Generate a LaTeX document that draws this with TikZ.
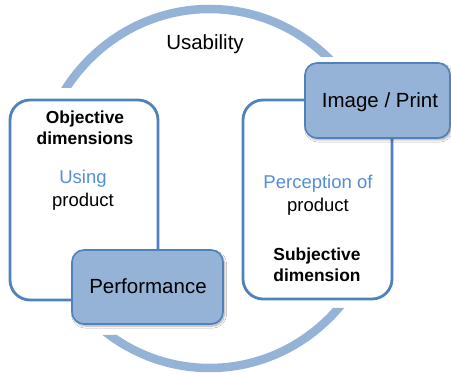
\documentclass[tikz,border=0pt]{standalone}
\usepackage{fontspec}
\setmainfont{Liberation Sans}
\usetikzlibrary{shadows.blur}
\definecolor{boxfill}{HTML}{95B3D7}
\definecolor{boxline}{HTML}{4F81BD}
\definecolor{ringcol}{HTML}{95B3D7}
\definecolor{bluetext}{HTML}{558ED5}
\tikzset{
  ring/.style={draw=ringcol, line width=8.5pt},
  bigbox/.style={draw=boxline, fill=white, line width=2.8pt, rounded corners=20pt, inner sep=0pt},
  tagbox/.style={draw=boxline, fill=boxfill, line width=1.6pt, rounded corners=12pt, inner sep=0pt,
    blur shadow={shadow xshift=1.5pt, shadow yshift=-2pt, shadow blur steps=6, shadow opacity=35}},
  bigtxt/.style={anchor=base, inner sep=0pt, font=\fontsize{20.5}{24}\selectfont},
  plaintxt/.style={anchor=base, inner sep=0pt, font=\fontsize{18.5}{22}\selectfont},
  boldtxt/.style={anchor=base, inner sep=0pt, font=\fontsize{17.4}{21}\selectfont\bfseries},
}
\begin{document}
\begin{tikzpicture}[x=1pt,y=-1pt]
\useasboundingbox (0,0) rectangle (451,374);
\fill[white] (0,0) rectangle (451,374);

% the usability ring: one ellipse, shown only above and below the boxes
\coordinate (ctr) at (209.5,188.5);
\begin{scope}
  \clip (0,0) -- (451,0) -- (451,57) -- (210,57) -- (210,88) -- (0,88) -- cycle;
  \draw[ring] (ctr) ellipse[x radius=173, y radius=179.5];
\end{scope}
\begin{scope}
  \clip (0,374) -- (0,335) -- (210,335) -- (210,308) -- (451,308) -- (451,374) -- cycle;
  \draw[ring] (ctr) ellipse[x radius=173, y radius=179.5];
\end{scope}
\node[bigtxt] (usab) at (205,50) {Usability};

% objective side
\node[bigbox, minimum width=148pt, minimum height=200pt] (obj) at (84,200) {};
\node[boldtxt] (obj1) at (85,124) {Objective};
\node[boldtxt] (obj2) at (85,145) {dimensions};
\node[plaintxt, text=bluetext] (use1) at (83,184) {Using};
\node[plaintxt] (use2) at (83,207) {product};
\node[tagbox, minimum width=151pt, minimum height=74pt] (perf) at (147.5,287) {};
\node[bigtxt] (perft) at (148,294) {Performance};

% subjective side
\node[bigbox, minimum width=149pt, minimum height=199pt] (subj) at (317.5,199.5) {};
\node[plaintxt, text=bluetext] (perc1) at (318,189) {Perception of};
\node[plaintxt] (perc2) at (318,212) {product};
\node[boldtxt] (subj1) at (317,261) {Subjective};
\node[boldtxt] (subj2) at (317,282) {dimension};
\node[tagbox, minimum width=145pt, minimum height=75pt] (img) at (377.5,100.5) {};
\node[bigtxt] (imgt) at (380,108) {Image / Print};
\end{tikzpicture}
\end{document}
